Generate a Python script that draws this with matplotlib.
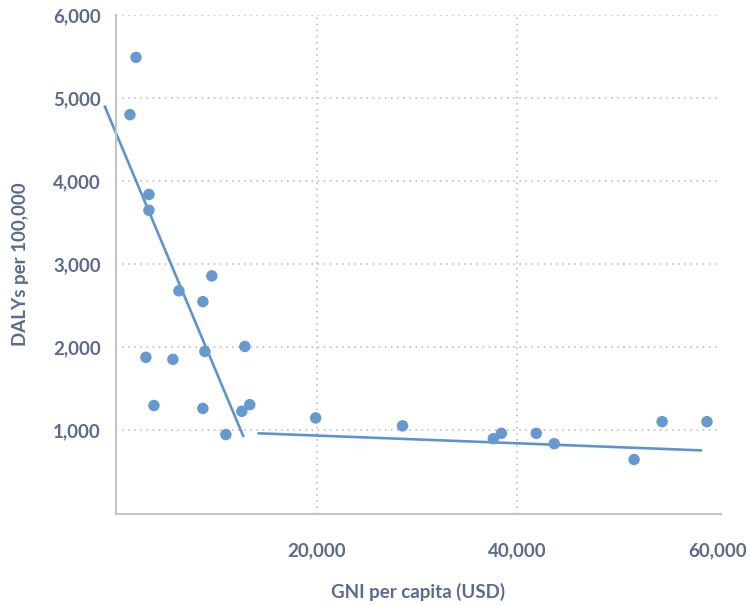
import matplotlib.pyplot as plt

# GNI per capita (USD) vs DALYs per 100,000
gni = [1990, 1390, 3280, 3280, 9550, 6270, 8660, 12840, 8860, 2980, 5670,
       3780, 8660, 13330, 12540, 10950, 19900, 28560, 37610, 38410, 41890,
       43680, 51640, 54430, 58900]
dalys = [5490, 4800, 3840, 3650, 2860, 2680, 2550, 2010, 1950, 1880, 1855,
         1300, 1265, 1310, 1230, 950, 1150, 1055, 900, 965, 965,
         840, 650, 1105, 1105]

# trend lines (start / end)
trend1_x = [-1100, 12670]
trend1_y = [4895, 935]
trend2_x = [14230, 58280]
trend2_y = [965, 760]

xticks = [20000, 40000, 60000]
yticks = [1000, 2000, 3000, 4000, 5000, 6000]

text_col = "#5b6b8e"
dot_col = "#6699cf"
line_col = "#5f93cf"

plt.rcParams["font.family"] = ["Lato", "DejaVu Sans"]

fig = plt.figure(figsize=(7.51, 6.05), dpi=100)
ax = fig.add_axes([116 / 751, 1 - 513.5 / 605, 605 / 751, 498.5 / 605])

ax.plot(trend1_x, trend1_y, color=line_col, lw=1.9, clip_on=False, zorder=2)
ax.plot(trend2_x, trend2_y, color=line_col, lw=1.9, clip_on=False, zorder=2)
ax.scatter(gni, dalys, s=68, color=dot_col, edgecolors="none", zorder=3,
           clip_on=False)

ax.set_xlim(0, 60300)
ax.set_ylim(0, 6000)
ax.set_xticks(xticks)
ax.set_xticklabels([f"{v:,}" for v in xticks])
ax.set_yticks(yticks)
ax.set_yticklabels([f"{v:,}" for v in yticks])

ax.grid(True, linestyle=(0, (1, 3)), color="#b5b5b5", lw=1.1)
ax.xaxis.get_gridlines()[-1].set_visible(False)
ax.set_axisbelow(True)

for s in ["top", "right"]:
    ax.spines[s].set_visible(False)
for s in ["left", "bottom"]:
    ax.spines[s].set_color("#c4c4c4")
    ax.spines[s].set_linewidth(1.5)

ax.tick_params(axis="x", length=0, pad=21, labelsize=13.5, labelcolor=text_col)
ax.tick_params(axis="y", length=0, pad=11, labelsize=13.5, labelcolor=text_col)
for lab in ax.get_xticklabels() + ax.get_yticklabels():
    lab.set_fontweight("bold")

ax.set_xlabel("GNI per capita (USD)", fontsize=13.5, fontweight="bold",
              color=text_col, labelpad=17)
ax.set_ylabel("DALYs per 100,000", fontsize=13.5, fontweight="bold",
              color=text_col, labelpad=17)

fig.savefig("out.png", dpi=100)
